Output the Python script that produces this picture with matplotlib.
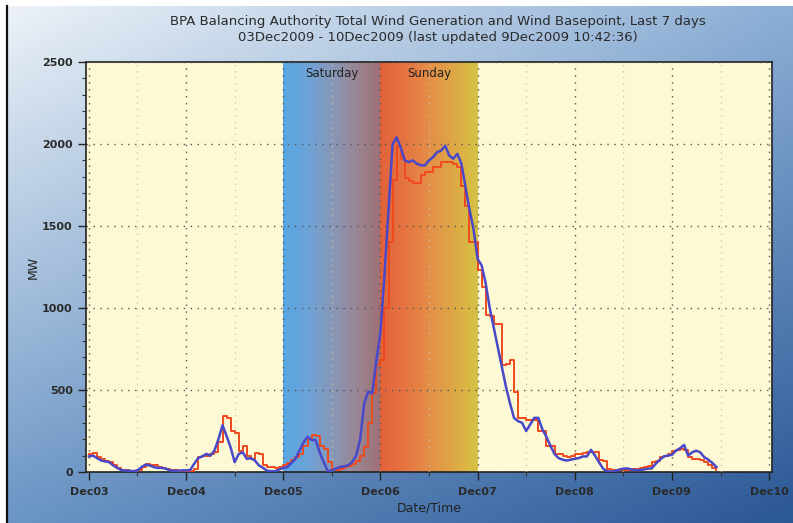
import numpy as np
import matplotlib
matplotlib.use("Agg")
import matplotlib.pyplot as plt
from matplotlib.colors import LinearSegmentedColormap, to_rgb

# ---------------- data ----------------
day_labels = ["Dec03", "Dec04", "Dec05", "Dec06", "Dec07", "Dec08", "Dec09", "Dec10"]
band_labels = ["Saturday", "Sunday"]
band_days = [(2, 3), (3, 4)]        # day offsets from Dec03 00:00

# hourly samples, hour 0 = 03Dec2009 00:00
wind_generation = [
    95, 100, 85, 70, 65, 60, 40, 25, 12, 8, 8, 5, 10, 30, 45, 40, 30, 25, 25, 20, 10, 8, 8, 10,
    10, 12, 50, 85, 95, 110, 100, 130, 200, 285, 220, 150, 60, 110, 120, 80, 85, 70, 40, 25, 8, 5, 5, 15,
    25, 30, 55, 80, 130, 180, 215, 195, 195, 120, 60, 5, 10, 20, 30, 35, 40, 60, 100, 200, 420, 490, 480, 680,
    850, 1200, 1600, 2000, 2040, 1980, 1900, 1890, 1900, 1880, 1870, 1870, 1900, 1920, 1950, 1960, 1990, 1930, 1910, 1940, 1880, 1740, 1600, 1480,
    1300, 1260, 1150, 1000, 880, 760, 640, 520, 420, 330, 310, 300, 250, 290, 330, 330, 260, 215, 160, 110, 85, 75, 70, 75,
    80, 85, 95, 95, 135, 100, 60, 20, 5, 2, 5, 15, 20, 22, 15, 12, 12, 15, 20, 22, 50, 75, 95, 100,
    105, 130, 145, 165, 100, 120, 130, 120, 90, 75, 55, 30,
]
wind_basepoint = [
    110, 115, 90, 80, 70, 60, 45, 25, 15, 10, 8, 8, 15, 30, 50, 45, 40, 30, 25, 20, 15, 10, 8, 8,
    8, 8, 20, 90, 95, 100, 110, 120, 180, 340, 330, 250, 240, 130, 160, 100, 80, 115, 110, 45, 30, 30, 25, 30,
    40, 55, 75, 90, 110, 160, 200, 225, 220, 160, 140, 60, 20, 15, 20, 30, 35, 50, 70, 100, 150, 300, 480, 650,
    680, 1000, 1400, 1780, 1990, 1910, 1790, 1775, 1765, 1765, 1810, 1830, 1830, 1860, 1860, 1890, 1890, 1890, 1880, 1860, 1745, 1620, 1400, 1400,
    1230, 1130, 960, 950, 900, 900, 650, 660, 685, 490, 330, 330, 320, 320, 320, 250, 250, 160, 160, 110, 110, 95, 90, 100,
    110, 110, 115, 120, 125, 125, 75, 70, 20, 12, 15, 15, 15, 15, 16, 20, 25, 30, 35, 60, 65, 90, 95, 110,
    130, 135, 140, 135, 90, 80, 80, 75, 60, 40, 25, 15,
]
hours = np.arange(len(wind_generation))
days = hours / 24.0

# ---------------- figure ----------------
W, H, DPI = 793, 523, 100
fig = plt.figure(figsize=(W / DPI, H / DPI), dpi=DPI)

# background gradient (blue, light top-left to dark bottom-right)
bg = fig.add_axes([0, 0, 1, 1], zorder=-10)
ny, nx = 60, 90
yy, xx = np.mgrid[0:1:ny * 1j, 0:1:nx * 1j]
c_tl = np.array(to_rgb("#eef3f8"))
c_tr = np.array(to_rgb("#8cafd6"))
c_bl = np.array(to_rgb("#6b96c6"))
c_br = np.array(to_rgb("#2b5896"))
img = ((1 - xx)[..., None] * (1 - yy)[..., None] * c_tl + xx[..., None] * (1 - yy)[..., None] * c_tr
       + (1 - xx)[..., None] * yy[..., None] * c_bl + xx[..., None] * yy[..., None] * c_br)
bg.imshow(img, aspect="auto", extent=[0, 1, 0, 1], interpolation="bilinear")
bg.set_xlim(0, 1); bg.set_ylim(0, 1)
# white margin at top/left and dark border line
bg.axhspan(1 - 6 / H, 1, color="white", lw=0)
bg.axvspan(0, 7 / W, color="white", lw=0)
bg.plot([7 / W, 7 / W], [0, 1 - 6 / H], color="#111111", lw=1.6)
bg.axis("off")

ax = fig.add_axes([86 / W, (H - 472) / H, (772 - 86) / W, (472 - 62) / H])
ax.set_facecolor("#fdf9d5")
ax.set_xlim(-0.03, 7.03)
ax.set_ylim(0, 2500)

# weekend bands with gradients
sat_cmap = LinearSegmentedColormap.from_list(
    "sat", ["#58a6e2", "#6ca3d8", "#8798b8", "#9a8694", "#9e7074"])
sun_cmap = LinearSegmentedColormap.from_list(
    "sun", ["#e2623a", "#e57442", "#e58e48", "#dea846", "#d6c244"])
grad = np.linspace(0, 1, 256)[None, :]
for (d0, d1), cm in zip(band_days, [sat_cmap, sun_cmap]):
    ax.imshow(grad, cmap=cm, aspect="auto", extent=[d0, d1, 0, 2500],
              interpolation="bilinear", zorder=0.5)
for (d0, d1), lab in zip(band_days, band_labels):
    ax.text((d0 + d1) / 2, 2430, lab, ha="center", va="center",
            fontsize=8.5, color="#222222", zorder=3)

# ticks and grid
ax.set_xticks(range(len(day_labels)))
ax.set_xticklabels(day_labels)
ax.set_xticks(np.arange(0.5, 7, 1), minor=True)
ax.set_yticks(range(0, 2501, 500))
ax.set_yticks(range(0, 2501, 100), minor=True)
ax.tick_params(axis="both", which="major", direction="out", length=6, width=1,
               color="#222222", labelsize=8, labelcolor="#2a2a2a")
ax.tick_params(axis="both", which="minor", direction="out", length=3, width=0.8, color="#333333")
ax.tick_params(axis="x", pad=5)
for lab in ax.get_xticklabels() + ax.get_yticklabels():
    lab.set_fontweight("semibold")
ax.grid(True, which="major", linestyle=(0, (1, 4)), color="#555555", lw=1.0, zorder=1)
ax.grid(True, which="minor", axis="x", linestyle=(0, (1, 4)), color="#c8c4a8", lw=0.9, zorder=1)
ax.set_axisbelow(False)

for s in ax.spines.values():
    s.set_color("#222222")
    s.set_linewidth(1.2)

# series
ax.plot(days, wind_basepoint, drawstyle="steps-post", color="#f04a1e", lw=1.4, zorder=4)
ax.plot(days, wind_generation, color="#4848c8", lw=1.8, zorder=5)

ax.set_ylabel("MW", fontsize=9, color="#222222", labelpad=2)
ax.set_xlabel("Date/Time", fontsize=9, color="#222222", labelpad=3)

fig.text(438 / W, 1 - 21 / H, "BPA Balancing Authority Total Wind Generation and Wind Basepoint, Last 7 days",
         ha="center", va="center", fontsize=9.5, color="#2a2a2a")
fig.text(438 / W, 1 - 37 / H, "03Dec2009 - 10Dec2009 (last updated 9Dec2009 10:42:36)",
         ha="center", va="center", fontsize=9.5, color="#2a2a2a")

fig.savefig("out.png", dpi=DPI)
